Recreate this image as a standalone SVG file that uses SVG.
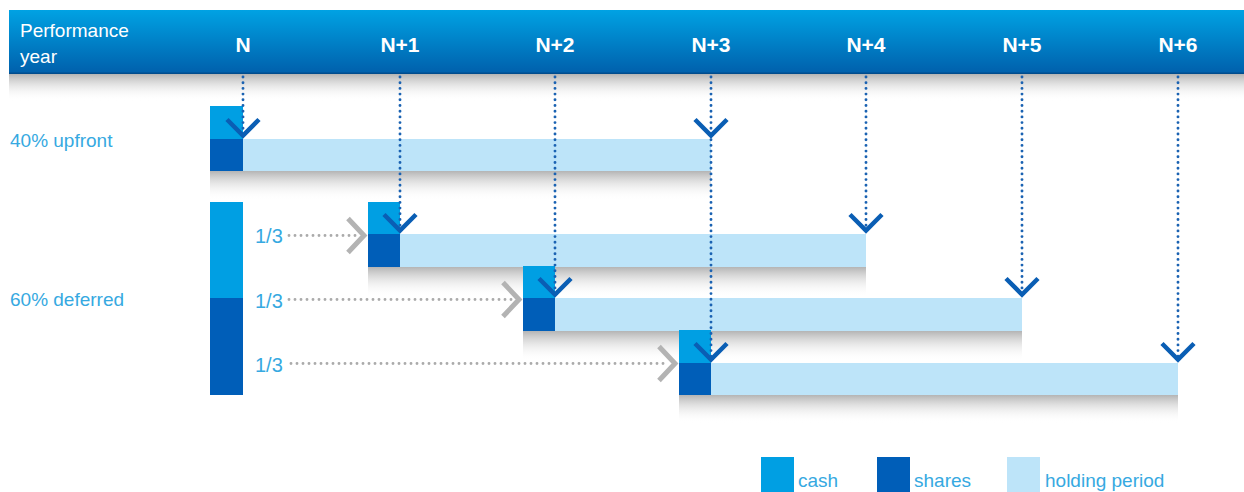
<svg xmlns="http://www.w3.org/2000/svg" width="1244" height="492" viewBox="0 0 1244 492">
  <defs>
    <linearGradient id="hdr" x1="0" y1="0" x2="0" y2="1">
      <stop offset="0" stop-color="#00a2e3"/>
      <stop offset="1" stop-color="#005fab"/>
    </linearGradient>
    <linearGradient id="shadow" x1="0" y1="0" x2="0" y2="1">
      <stop offset="0" stop-color="#b4b4b4" stop-opacity="1"/>
      <stop offset="1" stop-color="#ffffff" stop-opacity="0"/>
    </linearGradient>
  </defs>
  <style>
    .cash { fill: #009fe3; }
    .shares { fill: #005eb8; }
    .hold { fill: #bde4f9; }
    .shadow { fill: url(#shadow); }
    .lbl { font-family: "Liberation Sans", "Noto Sans", sans-serif; font-size: 19px; fill: #36a9e1; }
    .third { font-family: "Liberation Sans", "Noto Sans", sans-serif; font-size: 20px; fill: #36a9e1; }
    .yr { font-family: "Liberation Sans", "Noto Sans", sans-serif; font-size: 21px; font-weight: bold; fill: #ffffff; text-anchor: middle; }
    .hdrlbl { font-family: "Liberation Sans", "Noto Sans", sans-serif; font-size: 19px; fill: #ffffff; }
    .vdot { stroke: #1a62b2; stroke-width: 2.9; stroke-linecap: round; stroke-dasharray: 0 5.7; fill: none; }
    .hdot { stroke: #ababab; stroke-width: 2.9; stroke-linecap: round; stroke-dasharray: 0 6; fill: none; }
    .chevb { stroke: #0a5eb4; stroke-width: 4.5; fill: none; stroke-linejoin: miter; stroke-miterlimit: 10; }
    .chevg { stroke: #b3b3b3; stroke-width: 5; fill: none; stroke-linejoin: miter; stroke-miterlimit: 10; }
  </style>

  <rect width="1244" height="492" fill="#ffffff"/>

  <g id="header">
    <rect class="shadow" x="9" y="74" width="1235" height="27"/>
    <rect x="9" y="10" width="1235" height="64" fill="url(#hdr)"/>
    <rect x="9" y="72.5" width="1235" height="1.5" fill="#004c8d"/>
    <text class="hdrlbl" x="20" y="37">Performance</text>
    <text class="hdrlbl" x="20" y="63">year</text>
    <text class="yr" x="243" y="52">N</text>
    <text class="yr" x="400" y="52">N+1</text>
    <text class="yr" x="555" y="52">N+2</text>
    <text class="yr" x="711" y="52">N+3</text>
    <text class="yr" x="866" y="52">N+4</text>
    <text class="yr" x="1022" y="52">N+5</text>
    <text class="yr" x="1178" y="52">N+6</text>
  </g>

  <g id="upfront">
    <rect class="shadow" x="210" y="171" width="501" height="29"/>
    <rect class="cash" x="210" y="106" width="33" height="33"/>
    <rect class="shares" x="210" y="139" width="33" height="32"/>
    <rect class="hold" x="243" y="139" width="468" height="32"/>
    <text class="lbl" x="10" y="147">40% upfront</text>
  </g>

  <g id="deferred">
    <rect class="cash" x="210" y="202" width="33" height="96"/>
    <rect class="shares" x="210" y="298" width="33" height="97"/>
    <text class="lbl" x="10" y="306">60% deferred</text>
  </g>

  <g id="tranche1">
    <rect class="shadow" x="368" y="267" width="498" height="30"/>
    <rect class="cash" x="368" y="202" width="32" height="32"/>
    <rect class="shares" x="368" y="234" width="32" height="33"/>
    <rect class="hold" x="400" y="234" width="466" height="33"/>
    <text class="third" x="255" y="243">1/3</text>
  </g>

  <g id="tranche2">
    <rect class="shadow" x="523" y="331" width="499" height="30"/>
    <rect class="cash" x="523" y="266" width="32" height="32"/>
    <rect class="shares" x="523" y="298" width="32" height="33"/>
    <rect class="hold" x="555" y="298" width="467" height="33"/>
    <text class="third" x="255" y="308">1/3</text>
  </g>

  <g id="tranche3">
    <rect class="shadow" x="679" y="395" width="499" height="28"/>
    <rect class="cash" x="679" y="330" width="32" height="33"/>
    <rect class="shares" x="679" y="363" width="32" height="32"/>
    <rect class="hold" x="711" y="363" width="467" height="32"/>
    <text class="third" x="255" y="372">1/3</text>
  </g>

  <g id="connectors">
    <line class="vdot" x1="243" y1="77" x2="243" y2="135"/>
    <line class="vdot" x1="400" y1="77" x2="400" y2="230"/>
    <line class="vdot" x1="555" y1="77" x2="555" y2="294"/>
    <line class="vdot" x1="711" y1="77" x2="711" y2="359"/>
    <line class="vdot" x1="866" y1="77" x2="866" y2="230"/>
    <line class="vdot" x1="1022" y1="77" x2="1022" y2="294"/>
    <line class="vdot" x1="1178" y1="77" x2="1178" y2="359"/>

    <path class="chevb" d="M227,119.5 L243,135.5 L259,119.5"/>
    <path class="chevb" d="M695,119.5 L711,135.5 L727,119.5"/>
    <path class="chevb" d="M384,214.5 L400,230.5 L416,214.5"/>
    <path class="chevb" d="M850,214.5 L866,230.5 L882,214.5"/>
    <path class="chevb" d="M539,278.5 L555,294.5 L571,278.5"/>
    <path class="chevb" d="M1006,278.5 L1022,294.5 L1038,278.5"/>
    <path class="chevb" d="M695,343.5 L711,359.5 L727,343.5"/>
    <path class="chevb" d="M1162,343.5 L1178,359.5 L1194,343.5"/>

    <line class="hdot" x1="289" y1="235.5" x2="357" y2="235.5"/>
    <line class="hdot" x1="289" y1="299.5" x2="513" y2="299.5"/>
    <line class="hdot" x1="291" y1="363.5" x2="669" y2="363.5"/>
    <path class="chevg" d="M348,218.5 L364,235.5 L348,252.5"/>
    <path class="chevg" d="M503,282.5 L519,299.5 L503,316.5"/>
    <path class="chevg" d="M659,346.5 L675,363.5 L659,380.5"/>
  </g>

  <g id="legend">
    <rect class="cash" x="761" y="457" width="33" height="35"/>
    <text class="lbl" x="798" y="487">cash</text>
    <rect class="shares" x="877" y="457" width="33" height="35"/>
    <text class="lbl" x="914" y="487">shares</text>
    <rect class="hold" x="1007" y="457" width="33" height="35"/>
    <text class="lbl" x="1045" y="487">holding period</text>
  </g>
</svg>
